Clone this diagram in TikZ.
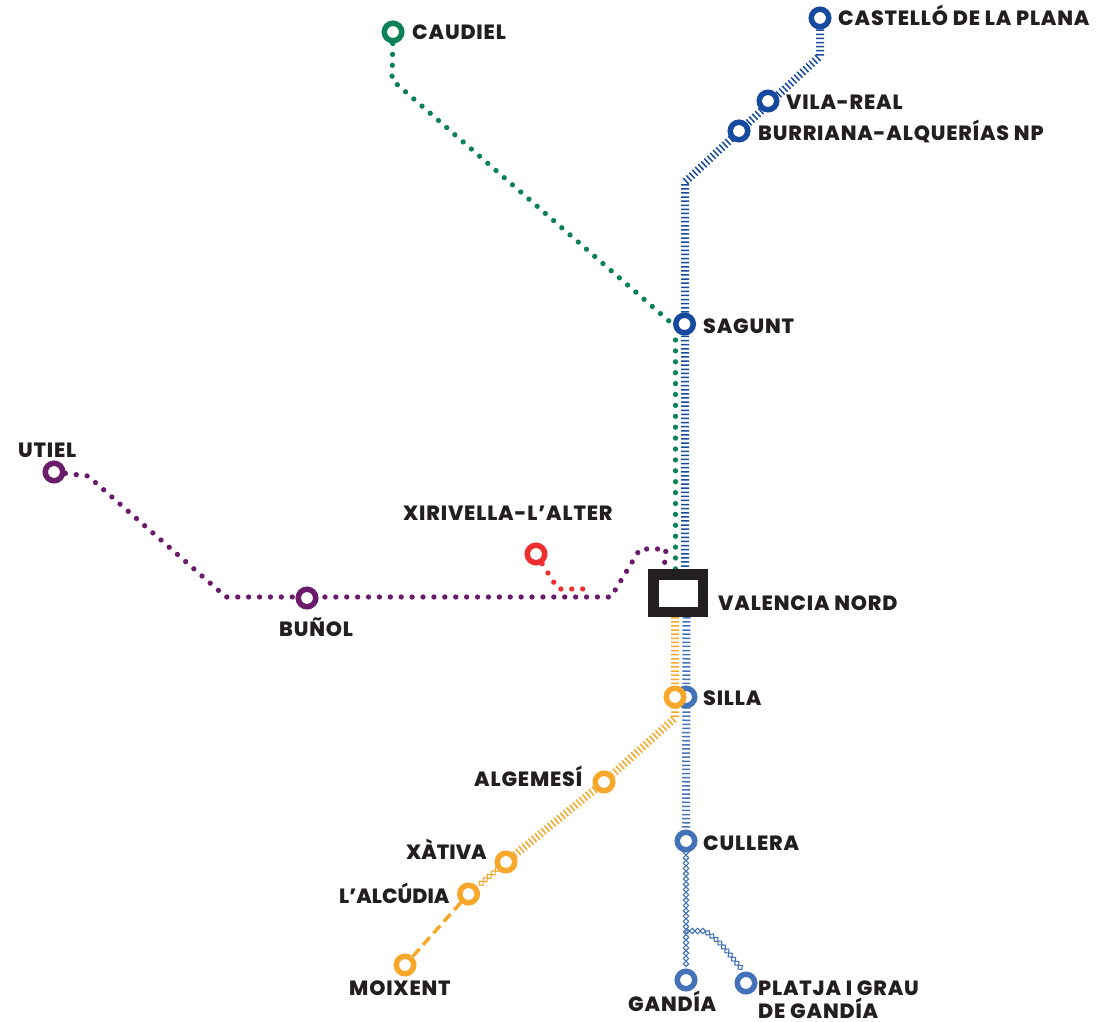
\documentclass[tikz,border=0pt]{standalone}
\usepackage{fontspec}
\setmainfont{Poppins}[BoldFont={Poppins ExtraBold},BoldFeatures={LetterSpace=4}]
\newfontfamily\tightlabel{Poppins ExtraBold}
\usetikzlibrary{decorations.markings}
\definecolor{navyline}{HTML}{154A9E}
\definecolor{blueline}{HTML}{4472B8}
\definecolor{amberline}{HTML}{F7A82A}
\definecolor{greenline}{HTML}{0B8154}
\definecolor{plumline}{HTML}{6A1B6C}
\definecolor{redline}{HTML}{EE2E2F}
\definecolor{inkbox}{HTML}{231F20}
\pgfdeclarelayer{lines}
\pgfsetlayers{lines,main}
\tikzset{
  ring/.style={circle,draw=#1,fill=white,line width=5.5pt,minimum size=17.5pt,inner sep=0pt},
  hub/.style={rectangle,draw=inkbox,fill=white,line width=10.5pt,minimum width=49.5pt,minimum height=37.5pt,inner sep=0pt},
  lab/.style={anchor=base west,inner sep=0pt,text=inkbox,font=\fontsize{20.6}{22}\selectfont\bfseries},
  labtight/.style={anchor=base west,inner sep=0pt,text=inkbox,font=\fontsize{20.6}{22}\selectfont\tightlabel},
  hatch/.style={draw=#1,line width=8pt,dash pattern=on 1.5pt off 2.6pt},
  dots/.style={draw=#1,line width=5.3pt,line cap=round,dash pattern=on 0pt off 10.9pt},
  dashline/.style={draw=#1,line width=3.4pt,dash pattern=on 10pt off 5.5pt},
  chain/.style={decorate,decoration={markings,mark=between positions 0 and 1 step 5.3pt with {\draw[#1,line width=1.1pt] (-2.7pt,0pt)--(0pt,2.7pt)--(2.7pt,0pt)--(0pt,-2.7pt)--cycle;}}}
}
\begin{document}
\begin{tikzpicture}[x=1pt,y=-1pt]
\useasboundingbox (0,0) rectangle (1104,1022);
% stations
\node[ring=greenline] (caudiel) at (393,32) {};
\node[ring=navyline] (castello) at (820,18) {};
\node[ring=navyline] (vila) at (768,101) {};
\node[ring=navyline] (burriana) at (739,131) {};
\node[ring=navyline] (sagunt) at (684.5,324) {};
\node[ring=plumline] (utiel) at (54,472) {};
\node[ring=plumline] (bunol) at (307,598) {};
\node[ring=redline] (xirivella) at (536,554) {};
\node[hub] (valencia) at (678.2,593) {};
\node[ring=blueline] (sillab) at (686,697) {};
\node[ring=amberline] (sillaa) at (675,697) {};
\node[ring=amberline] (algemesi) at (604,782) {};
\node[ring=amberline] (xativa) at (506,862) {};
\node[ring=amberline] (alcudia) at (468.5,894) {};
\node[ring=amberline] (moixent) at (405,965) {};
\node[ring=blueline] (cullera) at (686,841) {};
\node[ring=blueline] (gandia) at (686,980) {};
\node[ring=blueline] (platja) at (746,983) {};
% bends
\coordinate (c1) at (392,80);
\coordinate (c2) at (669,321);
\coordinate (c3) at (675.5,340);
\coordinate (c4) at (675.5,570);
\coordinate (n1) at (820,56);
\coordinate (n2) at (685,182);
\coordinate (n3) at (685,570);
\coordinate (u1) at (88,476);
\coordinate (u2) at (226,597);
\coordinate (u3) at (611,597);
\coordinate (u4) at (640,549);
\coordinate (u5) at (666,549);
\coordinate (u6) at (664,570);
\coordinate (r1) at (558,589);
\coordinate (r2) at (588,589);
\coordinate (a1) at (675,617);
\coordinate (a2) at (675,718);
\coordinate (b1) at (686.5,617);
\coordinate (p0) at (687,931);
\coordinate (p1) at (705,931);
\coordinate (p2) at (720,942);
\coordinate (p3) at (743,971);
\begin{pgfonlayer}{lines}
\fill[white] (0,0) rectangle (1104,1022);
\draw[dots=greenline] (caudiel) -- (c1) -- (c2);
\draw[dots=greenline] (c3) -- (c4);
\draw[hatch=navyline] (castello) -- (n1) -- (n2) -- (n3);
\draw[dots=plumline] (utiel) -- (u1) -- (u2) -- (u3) -- (u4) -- (u5) -- (u6);
\draw[dots=redline] (xirivella) -- (r1) -- (r2);
\draw[hatch=blueline] (b1) -- (cullera);
\draw[hatch=amberline] (a1) -- (a2) -- (algemesi) -- (xativa);
\path[chain=amberline] (xativa) -- (alcudia);
\draw[dashline=amberline] (alcudia) -- (moixent);
\path[chain=blueline] (cullera) -- (gandia);
\path[chain=blueline] (p0) -- (p1) .. controls (p2) and (p2) .. (p3);
\end{pgfonlayer}
% labels
\node[lab] (tcaudiel) at (412,40) {CAUDIEL};
\node[lab] (tcastello) at (838,26) {CASTELLÓ DE LA PLANA};
\node[lab] (tvila) at (786,110) {VILA-REAL};
\node[lab] (tburriana) at (758,141) {BURRIANA-ALQUERÍAS NP};
\node[lab] (tsagunt) at (703,333) {SAGUNT};
\node[lab] (tutiel) at (18,457) {UTIEL};
\node[lab] (txirivella) at (403,520) {XIRIVELLA-L’ALTER};
\node[lab] (tbunol) at (279,636) {BUÑOL};
\node[lab] (tvalencia) at (718,610) {VALENCIA NORD};
\node[lab] (tsilla) at (703,705) {SILLA};
\node[lab] (talgemesi) at (474,786) {ALGEMESÍ};
\node[labtight] (txativa) at (406,859) {XÀTIVA};
\node[labtight] (talcudia) at (339,903) {L’ALCÚDIA};
\node[lab] (tmoixent) at (349,995) {MOIXENT};
\node[lab] (tcullera) at (703,850) {CULLERA};
\node[lab] (tgandia) at (628,1011) {GANDÍA};
\node[lab] (tplatja) at (758,995) {PLATJA I GRAU};
\node[lab] (tplatjab) at (758,1018) {DE GANDÍA};
\end{tikzpicture}
\end{document}
